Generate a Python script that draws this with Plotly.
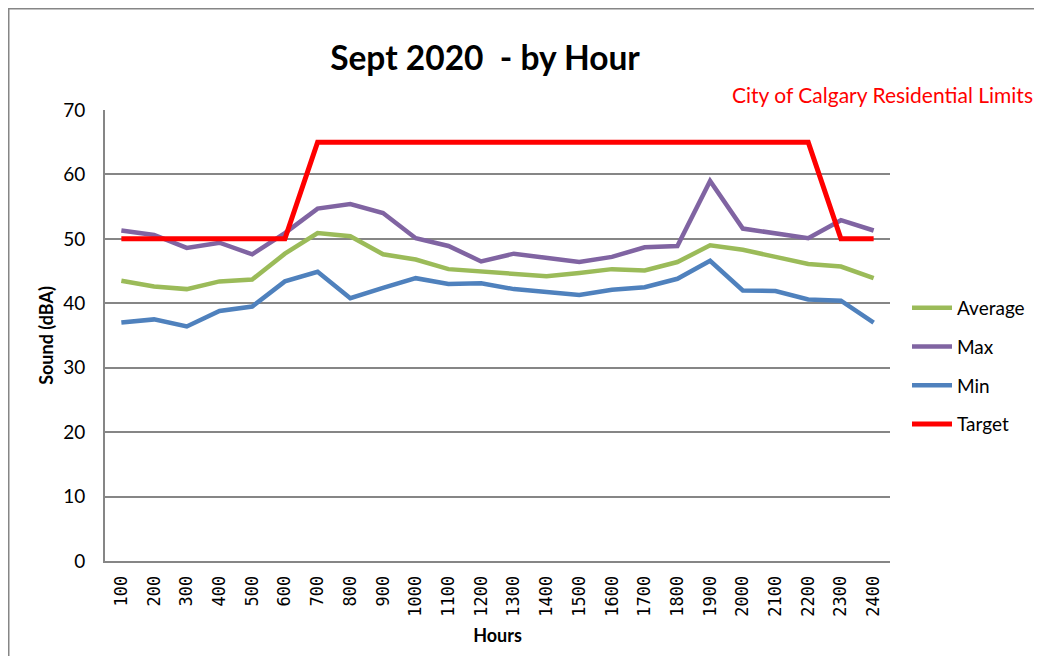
import plotly.graph_objects as go

hours = ["100", "200", "300", "400", "500", "600", "700", "800", "900", "1000", "1100", "1200",
         "1300", "1400", "1500", "1600", "1700", "1800", "1900", "2000", "2100", "2200", "2300", "2400"]
average = [43.5, 42.6, 42.2, 43.4, 43.7, 47.7, 50.9, 50.4, 47.6, 46.8, 45.3, 44.9,
           44.5, 44.2, 44.7, 45.3, 45.1, 46.4, 49.0, 48.3, 47.2, 46.1, 45.7, 43.9]
maximum = [51.3, 50.6, 48.6, 49.4, 47.6, 50.9, 54.7, 55.4, 54.0, 50.1, 48.9, 46.5,
           47.7, 47.1, 46.4, 47.2, 48.7, 48.9, 59.0, 51.6, 50.9, 50.1, 52.9, 51.3]
minimum = [37.0, 37.5, 36.4, 38.8, 39.5, 43.4, 44.9, 40.8, 42.4, 43.9, 43.0, 43.1,
           42.2, 41.8, 41.3, 42.1, 42.5, 43.8, 46.6, 42.0, 41.9, 40.6, 40.4, 37.0]
target = [50, 50, 50, 50, 50, 50, 65, 65, 65, 65, 65, 65,
          65, 65, 65, 65, 65, 65, 65, 65, 65, 65, 50, 50]

series = [("Average", average, "#9BBB59"),
          ("Max", maximum, "#8064A2"),
          ("Min", minimum, "#4F81BD"),
          ("Target", target, "#FF0000")]

FONT = "Lato, Roboto, sans-serif"

# figure is drawn with an 8px page margin, so size it to fit the window
W, H = 1034, 648
L, T, R, B = 97, 102, 152, 95
PW, PH = W - L - R, H - T - B


def px(fx):
    return (fx - L) / PW


def py(fy):
    return (H - B - fy) / PH


fig = go.Figure()
for name, vals, color in series:
    fig.add_trace(go.Scatter(x=hours, y=vals, name=name, mode="lines",
                             legendgroup=name,
                             line=dict(color=color, width=4.5 if name != "Target" else 5)))

fig.update_layout(
    width=W, height=H,
    margin=dict(l=L, r=R, t=T, b=B),
    paper_bgcolor="white", plot_bgcolor="white",
    font=dict(family=FONT, size=16, color="black"),
    title=dict(text="<b>Sept 2020&nbsp;&nbsp;- by Hour</b>", x=477 / W, xanchor="center",
               y=1 - 50 / H, yanchor="middle", font=dict(size=33.5, family=FONT)),
    showlegend=True,
    legend=dict(x=px(899), y=py(281), xanchor="left", yanchor="top",
                font=dict(size=19, family=FONT), tracegroupgap=11, itemwidth=40,
                bgcolor="rgba(0,0,0,0)"),
    hovermode=False,
)

fig.update_xaxes(type="category", categoryorder="array", categoryarray=hours,
                 range=[-0.5, 23.5], tickangle=-90, showgrid=False,
                 showline=True, linecolor="#868686", linewidth=2,
                 ticks="", ticklabelstandoff=6,
                 tickfont=dict(size=17, family="DejaVu Sans Mono, monospace"),
                 title=dict(text="<b>Hours</b>", font=dict(size=18, family=FONT), standoff=14))
fig.update_yaxes(range=[0, 70], dtick=10, showgrid=True, gridcolor="#868686", gridwidth=2,
                 showline=True, linecolor="#868686", linewidth=2, zeroline=False,
                 ticks="", ticklabelstandoff=14, tickfont=dict(size=19, family=FONT),
                 title=dict(text="<b>Sound (dBA)</b>", font=dict(size=18, family=FONT), standoff=5))

fig.add_annotation(text="City of Calgary Residential Limits", xref="paper", yref="paper",
                   x=px(1027), y=py(86), xanchor="right", yanchor="middle", showarrow=False,
                   font=dict(color="#FF0000", size=21, family=FONT))

fig.add_shape(type="rect", xref="paper", yref="paper",
              x0=px(0), x1=px(1060), y0=py(680), y1=py(0),
              line=dict(color="#868686", width=3), fillcolor="rgba(0,0,0,0)", layer="below")

fig.write_html("out.html")
